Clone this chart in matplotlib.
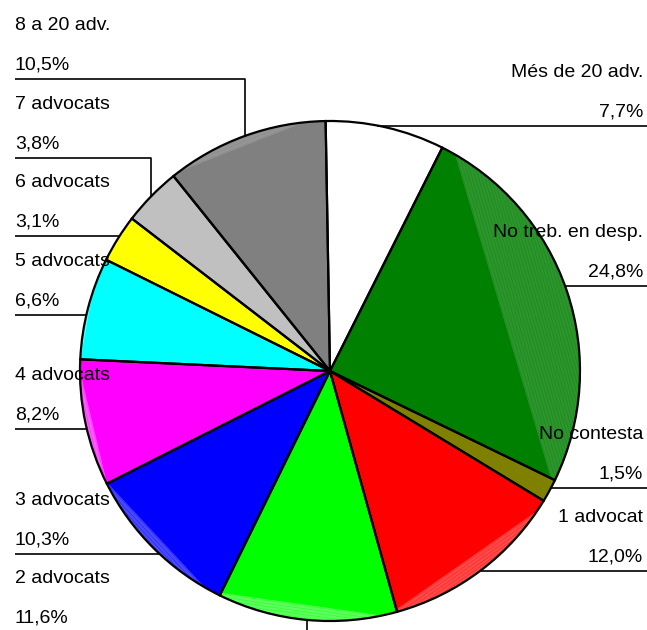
import matplotlib
matplotlib.use("Agg")
import matplotlib.pyplot as plt
from matplotlib.patches import Polygon, Wedge
import numpy as np

# Distribution of respondents by size of law office (share of answers, %)
categories = ["Més de 20 adv.", "No treb. en desp.", "No contesta", "1 advocat",
              "2 advocats", "3 advocats", "4 advocats", "5 advocats",
              "6 advocats", "7 advocats", "8 a 20 adv."]
shares = [7.7, 24.8, 1.5, 12.0, 11.6, 10.3, 8.2, 6.6, 3.1, 3.8, 10.5]
colors = ["#FFFFFF", "#008000", "#808000", "#FF0000", "#00FF00", "#0000FF",
          "#FF00FF", "#00FFFF", "#FFFF00", "#C0C0C0", "#808080"]

# Label layout: side of the figure and vertical pixel position of the name line
label_side = ["R", "R", "R", "R", "L", "L", "L", "L", "L", "L", "L"]
label_top_px = [70, 230, 432, 515, 576, 498, 373, 259, 180, 102, 23]

# Rim highlight of the pseudo-3D shading: (wedge index, chord start/end angle, tint)
rim_light = [(1, 60, -27, "#2E952E"), (3, -34, -76, "#FF4A4A"),
             (4, -78, -118, "#5CFF5C"), (5, -120, -154, "#4A4AFF"),
             (6, 207, 180, "#FF5CFF"), (7, 178, 162, "#6CFFFF"),
             (10, 127, 96, "#969696")]

W, H, DPI = 647, 630, 100
CX, CY, R = 330, 371, 250          # pie centre and radius in pixels


def dx(px):
    return (px - CX) / R


def dy(py):
    return (CY - py) / R


plt.rcParams["font.family"] = ["Liberation Sans", "DejaVu Sans"]
fig = plt.figure(figsize=(W / DPI, H / DPI), dpi=DPI)
ax = fig.add_axes([0, 0, 1, 1])

wedges, _ = ax.pie(shares, colors=colors, startangle=91, counterclock=False,
                   radius=1, center=(0, 0),
                   wedgeprops=dict(edgecolor="none", linewidth=0))

# lighter striped band between a chord and the rim of some wedges
for idx, a0, a1, tint in rim_light:
    w = wedges[idx]
    t = np.radians(np.linspace(a0, a1, 80))
    seg = np.column_stack([np.cos(t), np.sin(t)])
    band = Polygon(seg, closed=True, facecolor=tint, edgecolor="none", zorder=2)
    band.set_clip_path(w)
    ax.add_patch(band)
    # fine stripes parallel to the chord
    p0, p1 = seg[0], seg[-1]
    mid = (p0 + p1) / 2
    nrm = mid / np.linalg.norm(mid)
    sag = 1 - np.linalg.norm(mid)
    tang = (p1 - p0) / np.linalg.norm(p1 - p0)
    for k, off in enumerate(np.arange(0.004, sag, 0.012)):
        c = mid + nrm * off
        ln, = ax.plot([c[0] - 2 * tang[0], c[0] + 2 * tang[0]],
                      [c[1] - 2 * tang[1], c[1] + 2 * tang[1]],
                      color=colors[idx], lw=0.5, alpha=0.45, zorder=2.5)
        ln.set_clip_path(band)

# wedge outlines on top of the shading
for w in wedges:
    ax.add_patch(Wedge((0, 0), 1, w.theta1, w.theta2, fill=False,
                       edgecolor="black", linewidth=1.6, zorder=3))

ax.set_xlim(dx(0), dx(W))
ax.set_ylim(dy(H), dy(0))
ax.set_aspect("equal")
ax.axis("off")

fs = 14
cap = 0.716 * fs * DPI / 72 / 2     # half cap height in pixels
line_kw = dict(color="black", lw=1.2, solid_capstyle="butt", zorder=4)

for w, name, val, side, ytop in zip(wedges, categories, shares,
                                    label_side, label_top_px):
    pct = f"{val:.1f}".replace(".", ",") + "%"
    y_name = ytop
    y_pct = ytop + 40
    y_line = ytop + 55.5
    if side == "L":
        tx, ha = 15, "left"
    else:
        tx, ha = 643, "right"
    ax.text(dx(tx), dy(y_name + cap), name, ha=ha, va="baseline",
            fontsize=fs, zorder=5)
    ax.text(dx(tx), dy(y_pct + cap), pct, ha=ha, va="baseline",
            fontsize=fs, zorder=5)

    # leader line: horizontal rule under the label, joined to the wedge arc
    t_hi, t_lo = w.theta2, w.theta1
    yl = dy(y_line)
    x_start = dx(15) if side == "L" else dx(W)
    hit = False
    if abs(yl) < 1:
        xa = np.sqrt(1 - yl ** 2) * (-1 if side == "L" else 1)
        ang = np.degrees(np.arctan2(yl, xa))
        for k in (-360, 0, 360):
            if t_lo <= ang + k <= t_hi:
                hit = True
        if hit:
            ax.plot([x_start, xa], [yl, yl], **line_kw)
    if not hit:
        mid = np.radians((t_hi + t_lo) / 2)
        xm, ym = np.cos(mid), np.sin(mid)
        ax.plot([x_start, xm, xm], [yl, yl, ym], **line_kw)

fig.savefig("out.png", dpi=DPI)
